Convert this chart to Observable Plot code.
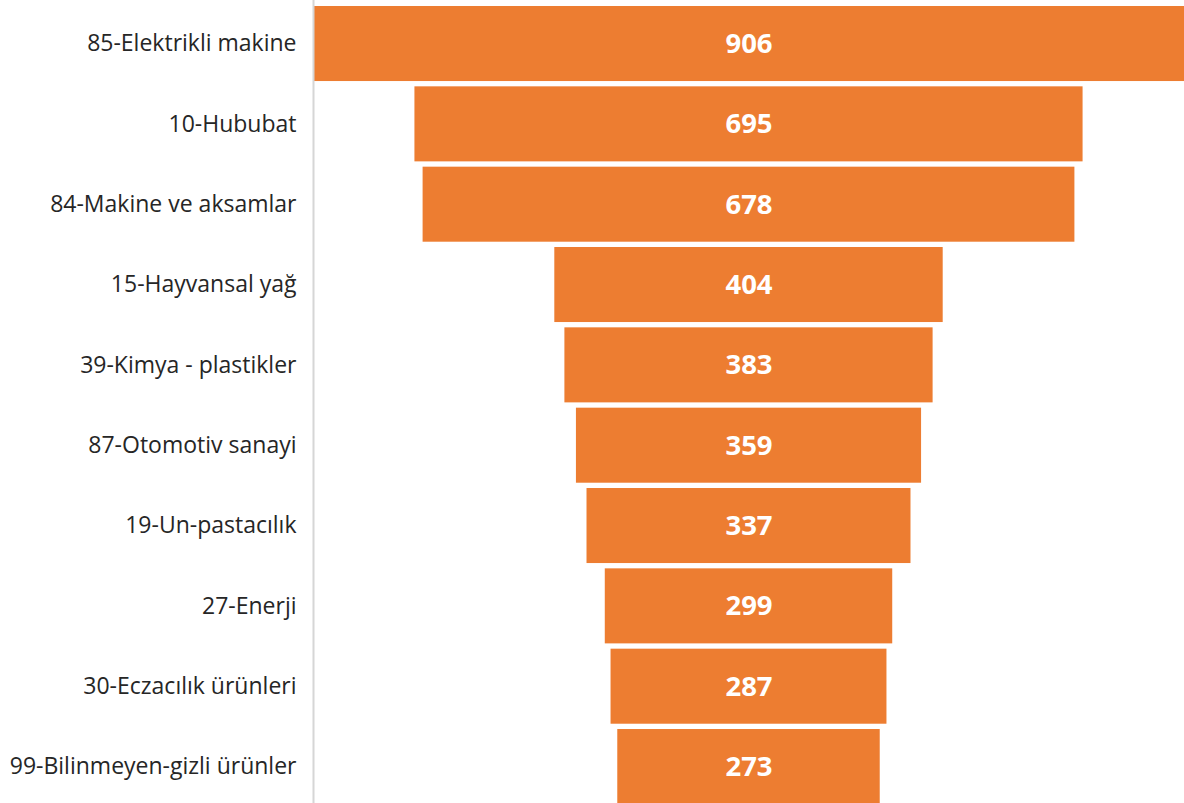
<!DOCTYPE html>
<html>
<head>
<meta charset="utf-8">
<script src="https://cdn.jsdelivr.net/npm/d3@7"></script>
<script src="https://cdn.jsdelivr.net/npm/@observablehq/plot@0.6"></script>
<style>
  html, body { margin: 0; padding: 0; background: #fff; }
  #chart svg { display: block; }
</style>
</head>
<body>
<div id="chart"></div>
<script>
const categories = [
  "85-Elektrikli makine",
  "10-Hububat",
  "84-Makine ve aksamlar",
  "15-Hayvansal yağ",
  "39-Kimya - plastikler",
  "87-Otomotiv sanayi",
  "19-Un-pastacılık",
  "27-Enerji",
  "30-Eczacılık ürünleri",
  "99-Bilinmeyen-gizli ürünler"
];
const values = [906, 695, 678, 404, 383, 359, 337, 299, 287, 273];

const data = categories.map((c, i) => ({cat: c, v: values[i]}));
const half = d3.max(values) / 2;

const chart = Plot.plot({
  width: 1184,
  height: 803,
  marginLeft: 313,
  marginRight: 0,
  marginTop: 0,
  marginBottom: 0,
  style: {fontFamily: "'Open Sans', sans-serif", background: "#fff"},
  x: {domain: [-half, half], axis: null},
  y: {domain: categories, range: [3.35, 806.7], paddingInner: 0.066, paddingOuter: 0.033, round: false},
  marks: [
    Plot.barX(data, {y: "cat", x1: d => -d.v / 2, x2: d => d.v / 2, fill: "#ED7D31"}),
    Plot.text(data, {y: "cat", x: () => 0, text: d => String(d.v), fill: "#fff", fontWeight: "bold", fontSize: 27.5}),
    Plot.axisY({tickSize: 0, tickPadding: 17, fontSize: 23, color: "#262626", label: null}),
    Plot.frame({anchor: "left", stroke: "#d6d6d6", strokeWidth: 2})
  ]
});
document.getElementById("chart").appendChild(chart);
</script>
</body>
</html>
